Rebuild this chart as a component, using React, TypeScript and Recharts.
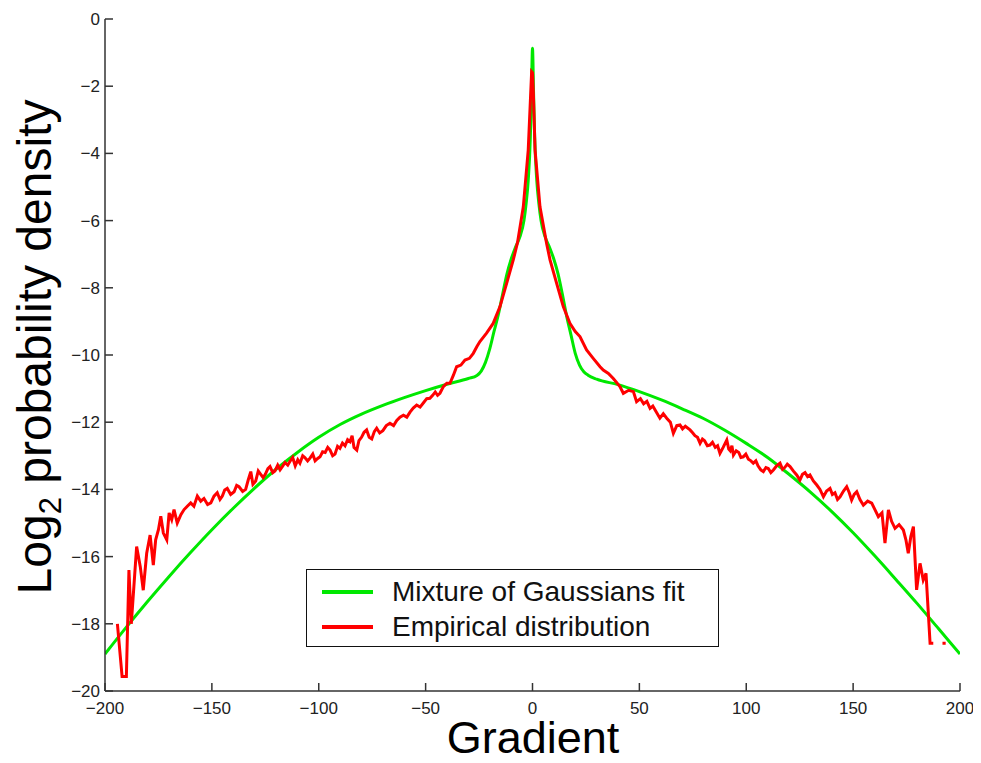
import { LineChart, Line, XAxis, YAxis, Legend, Label } from "recharts";

const seriesNames = ["Mixture of Gaussians fit", "Empirical distribution"];

// Mixture of Gaussians fit (green): [gradient, log2 density]
const fitPoints: [number, number][] = [
  [-200, -18.9], [-190, -18.1], [-180, -17.33], [-170, -16.59], [-160, -15.88], [-150, -15.2],
  [-140, -14.56], [-130, -13.96], [-120, -13.4], [-110, -12.9], [-100, -12.45], [-90, -12.07],
  [-80, -11.76], [-70, -11.5], [-60, -11.27], [-50, -11.06], [-40, -10.87], [-30, -10.7],
  [-26, -10.61], [-24, -10.48], [-22, -10.22], [-20, -9.82], [-18, -9.3], [-16, -8.8], [-14, -8.2],
  [-12, -7.6], [-10, -7.15], [-8, -6.8], [-6, -6.5], [-4, -6.0], [-3, -5.5], [-2, -4.8], [-1, -3.5],
  [-0.5, -2.2], [0, -0.87], [0.5, -2.2], [1, -3.5], [2, -4.8], [3, -5.5], [4, -6.0], [6, -6.5],
  [8, -6.8], [10, -7.15], [12, -7.6], [14, -8.2], [16, -8.85], [18, -9.4], [20, -9.95], [22, -10.3],
  [24, -10.5], [26, -10.6], [30, -10.72], [40, -10.88], [50, -11.09], [60, -11.33], [70, -11.6],
  [80, -11.89], [90, -12.24], [100, -12.63], [110, -13.05], [120, -13.55], [130, -14.08], [140, -14.66],
  [150, -15.29], [160, -15.97], [170, -16.68], [180, -17.4], [190, -18.15], [200, -18.9],
];

// Empirical distribution (red): null = gap in the curve
const empPoints: [number, number | null][] = [
  [-194.2, -18.0], [-192, -19.57], [-190, -19.57], [-188.8, -16.4], [-187.7, -18.0], [-186.5, -16.9],
  [-185.2, -15.7], [-183.5, -16.3], [-182.1, -17.0], [-180.5, -15.9], [-178.9, -15.36], [-177.4, -16.25],
  [-176.3, -15.5], [-175, -15.2], [-173.9, -14.8], [-172.7, -15.3], [-171.1, -15.5], [-170, -14.7],
  [-168.8, -14.9], [-167.7, -14.6], [-166.2, -15.0], [-164.5, -14.75], [-163, -14.6], [-161.5, -14.5],
  [-159.9, -14.4], [-158.4, -14.5], [-156.8, -14.2], [-155.2, -14.35], [-153.7, -14.27], [-152, -14.45],
  [-150.5, -14.4], [-149, -14.2], [-147.5, -14.1], [-146.2, -14.3], [-145.1, -14.2], [-144, -14.02],
  [-142.8, -13.97], [-141.2, -14.15], [-139.6, -14.07], [-138.4, -13.88], [-137.3, -13.92], [-135.6, -14.06],
  [-134.2, -14.0], [-133, -13.72], [-131.8, -13.47], [-130.8, -13.85], [-129.5, -13.75], [-128.3, -13.45],
  [-127.5, -13.52], [-126, -13.65], [-125, -13.55], [-123.8, -13.38], [-122.8, -13.32], [-121.5, -13.5],
  [-120.5, -13.45], [-119.2, -13.28], [-118.1, -13.42], [-116.8, -13.3], [-115.8, -13.2], [-114.5, -13.28],
  [-113.5, -13.17], [-112.2, -13.05], [-111, -13.3], [-109.8, -13.12], [-108.8, -13.22], [-107.5, -13.0],
  [-106.5, -13.05], [-105.2, -13.15], [-104.1, -13.07], [-102.8, -12.95], [-101.7, -13.15], [-100.5, -13.08],
  [-99.4, -13.03], [-98.2, -12.88], [-97, -12.9], [-95.8, -12.75], [-94.7, -12.83], [-93.5, -13.0],
  [-92.4, -12.95], [-91.2, -12.72], [-90.1, -12.78], [-88.9, -12.62], [-87.7, -12.7], [-86.5, -12.52],
  [-85.4, -12.58], [-84.4, -12.4], [-83.5, -12.75], [-82.2, -12.83], [-81.2, -12.55], [-80, -12.45],
  [-78.8, -12.3], [-77.6, -12.23], [-76.4, -12.45], [-75.2, -12.5], [-74, -12.28], [-72.9, -12.18],
  [-71.5, -12.32], [-70, -12.25], [-68.4, -12.1], [-66.7, -12.03], [-65, -12.1], [-63.5, -11.95],
  [-62, -11.85], [-60.4, -11.79], [-58.8, -11.85], [-57.3, -11.7], [-55.8, -11.58], [-54.2, -11.49],
  [-52.6, -11.55], [-51, -11.42], [-49.5, -11.3], [-48, -11.29], [-46.7, -11.2], [-45.5, -11.1],
  [-44.4, -11.2], [-43.3, -11.14], [-41.7, -10.94], [-40.1, -10.84], [-38.6, -10.84], [-37, -10.6],
  [-35.5, -10.35], [-33.5, -10.3], [-31.6, -10.15], [-29.5, -10.1], [-27.7, -9.95], [-26, -9.75],
  [-24.6, -9.6], [-21.5, -9.35], [-18.4, -9.06], [-15.2, -8.56], [-12.1, -7.87], [-9, -7.17],
  [-7, -6.65], [-4.3, -5.59], [-2, -3.9], [-0.4, -1.57], [0, -1.6], [0.4, -2.2], [1.2, -3.9],
  [3.5, -5.59], [6.6, -6.68], [8.2, -7.17], [11.3, -7.87], [14.4, -8.56], [17.5, -9.06], [20, -9.3],
  [22.2, -9.45], [25.3, -9.85], [28.4, -10.1], [31.6, -10.35], [33.1, -10.45], [35.5, -10.55],
  [37.8, -10.7], [40.9, -10.94], [42.5, -11.14], [45, -11.05], [47.2, -11.09], [48.7, -11.39],
  [50.5, -11.3], [52, -11.45], [53.5, -11.38], [55, -11.59], [56.3, -11.52], [57.5, -11.65],
  [59.6, -11.88], [61.2, -11.75], [62.8, -11.88], [64.5, -12.0], [65.9, -12.33], [67.5, -12.1],
  [69, -12.08], [70.2, -12.2], [71.5, -12.12], [73.7, -12.23], [75, -12.32], [76, -12.4],
  [77.2, -12.45], [78.4, -12.63], [79.5, -12.5], [80.5, -12.55], [81.8, -12.7], [83, -12.68],
  [84.2, -12.6], [85.5, -12.75], [86.6, -12.7], [87.7, -12.93], [89.2, -12.75], [90.9, -12.53],
  [91.8, -12.8], [92.5, -12.85], [93.3, -12.7], [94, -12.98], [95.3, -12.85], [96.5, -12.9],
  [97.5, -13.05], [98.6, -13.03], [99.8, -12.95], [101, -13.1], [102.2, -13.15], [103.3, -13.22],
  [104.5, -13.15], [105.5, -13.3], [106.8, -13.42], [108, -13.47], [109.2, -13.35], [110.3, -13.38],
  [111.5, -13.5], [112.7, -13.42], [114.2, -13.3], [115.8, -13.22], [117, -13.4], [118, -13.35],
  [119.2, -13.25], [120.5, -13.32], [122, -13.45], [123.6, -13.57], [125.1, -13.72], [126.3, -13.55],
  [127.5, -13.5], [128.7, -13.62], [129.8, -13.57], [131.4, -13.75], [133, -13.87], [134.5, -14.0],
  [136.1, -14.22], [137.6, -14.05], [139.2, -13.97], [140.3, -14.15], [141.5, -14.1], [142.7, -14.3],
  [143.9, -14.22], [145.5, -14.05], [147, -13.92], [148.2, -14.1], [149.3, -14.32], [150.5, -14.15],
  [151.7, -14.07], [153.2, -14.3], [154.8, -14.47], [156.8, -14.35], [158.7, -14.41], [160.2, -14.6],
  [161.8, -14.81], [163.5, -14.7], [164.9, -15.6], [166.5, -14.61], [168, -14.95], [169.6, -15.16],
  [171.5, -15.05], [173.5, -15.21], [174.7, -15.5], [175.8, -15.9], [177, -15.4], [178.2, -15.11],
  [179.7, -16.99], [181.3, -16.2], [182.8, -16.7], [184.1, -16.5], [186, -18.58], [187.5, -18.58],
  [189.5, null], [191.8, -18.58], [193.3, -18.58],
];

const xTicks = [-200, -150, -100, -50, 0, 50, 100, 150, 200];
const yTicks = [0, -2, -4, -6, -8, -10, -12, -14, -16, -18, -20];

const fitData = fitPoints.map(([x, y]) => ({ x, y }));
const empData = empPoints.map(([x, y]) => ({ x, y }));

const FONT = '"Liberation Sans", Arial, Helvetica, sans-serif';
const AXIS = "#333";
const fmt = (v: number) => (v < 0 ? "\u2212" + Math.abs(v) : String(v));

const BottomTick = ({ x, y, payload }: any) => (
  <g>
    <line x1={x} x2={x} y1={y} y2={y - 8} stroke={AXIS} strokeWidth={1.5} />
    <text x={x} y={y + 23} textAnchor="middle" fontSize={17} fill="#222" fontFamily={FONT}>
      {fmt(payload.value)}
    </text>
  </g>
);
const LeftTick = ({ x, y, payload }: any) => (
  <g>
    <line x1={x} x2={x + 8} y1={y} y2={y} stroke={AXIS} strokeWidth={1.5} />
    <text x={x - 5} y={y + 6} textAnchor="end" fontSize={17} fill="#222" fontFamily={FONT}>
      {fmt(payload.value)}
    </text>
  </g>
);
const TopTick = ({ x, y }: any) => <line x1={x} x2={x} y1={y} y2={y + 8} stroke={AXIS} strokeWidth={1.5} />;
const RightTick = ({ x, y }: any) => <line x1={x} x2={x - 8} y1={y} y2={y} stroke={AXIS} strokeWidth={1.5} />;

const LegendBox = ({ payload }: any) => {
  const items = [...(payload || [])].sort(
    (a: any, b: any) => seriesNames.indexOf(a.value) - seriesNames.indexOf(b.value)
  );
  return (
    <div
      style={{
        border: "1.5px solid #111",
        background: "#fff",
        boxSizing: "border-box",
        height: 78,
        padding: "4px 0 0 15px",
        fontFamily: FONT,
        fontSize: 28,
        color: "#111",
      }}
    >
      {items.map((p: any) => (
        <div key={p.value} style={{ display: "flex", alignItems: "center", height: 35 }}>
          <span style={{ display: "inline-block", width: 51, height: 4, background: p.color, marginRight: 19 }} />
          <span>{p.value}</span>
        </div>
      ))}
    </div>
  );
};

export default function App() {
  return (
    <div style={{ margin: -8, width: 981, height: 763 }}>
      <LineChart width={981} height={763} margin={{ top: 19, right: 21, bottom: 0, left: 0 }}>
        <XAxis
          dataKey="x"
          type="number"
          domain={[-200, 200]}
          ticks={xTicks}
          allowDataOverflow
          height={72}
          tickSize={0}
          tickMargin={0}
          tick={<BottomTick />}
          stroke={AXIS}
          strokeWidth={1.5}
        >
          <Label
            content={() => (
              <text x={533} y={753} textAnchor="middle" fontSize={45} fill="#000" fontFamily={FONT}>
                Gradient
              </text>
            )}
          />
        </XAxis>
        <XAxis
          xAxisId="top"
          orientation="top"
          dataKey="x"
          type="number"
          domain={[-200, 200]}
          ticks={xTicks}
          allowDataOverflow
          height={0}
          tickSize={0}
          tickMargin={0}
          tick={<TopTick />}
          stroke={AXIS}
          strokeWidth={1.5}
        />
        <YAxis
          type="number"
          domain={[-20, 0]}
          ticks={yTicks}
          allowDataOverflow
          width={105}
          tickSize={0}
          tickMargin={0}
          tick={<LeftTick />}
          stroke={AXIS}
          strokeWidth={1.5}
        >
          <Label
            content={() => (
              <text
                x={0}
                y={0}
                transform="translate(51 347) rotate(-90)"
                textAnchor="middle"
                fontSize={48}
                fill="#000"
                fontFamily={FONT}
              >
                Log
                <tspan fontSize={31} dy={10}>2</tspan>
                <tspan dy={-10}> probability density</tspan>
              </text>
            )}
          />
        </YAxis>
        <YAxis
          yAxisId="right"
          orientation="right"
          type="number"
          domain={[-20, 0]}
          ticks={yTicks}
          allowDataOverflow
          width={0}
          tickSize={0}
          tickMargin={0}
          tick={<RightTick />}
          stroke={AXIS}
          strokeWidth={1.5}
        />
        <Legend
          layout="vertical"
          align="center"
          verticalAlign="middle"
          content={<LegendBox />}
          wrapperStyle={{ left: 306, top: 569, width: 413 }}
        />
        <Line
          data={fitData}
          dataKey="y"
          name={seriesNames[0]}
          type="monotone"
          stroke="#00e800"
          strokeWidth={3}
          dot={false}
          activeDot={false}
          isAnimationActive={false}
        />
        <Line
          data={empData}
          dataKey="y"
          name={seriesNames[1]}
          stroke="#ff0000"
          strokeWidth={3}
          dot={false}
          activeDot={false}
          isAnimationActive={false}
        />
      </LineChart>
    </div>
  );
}
